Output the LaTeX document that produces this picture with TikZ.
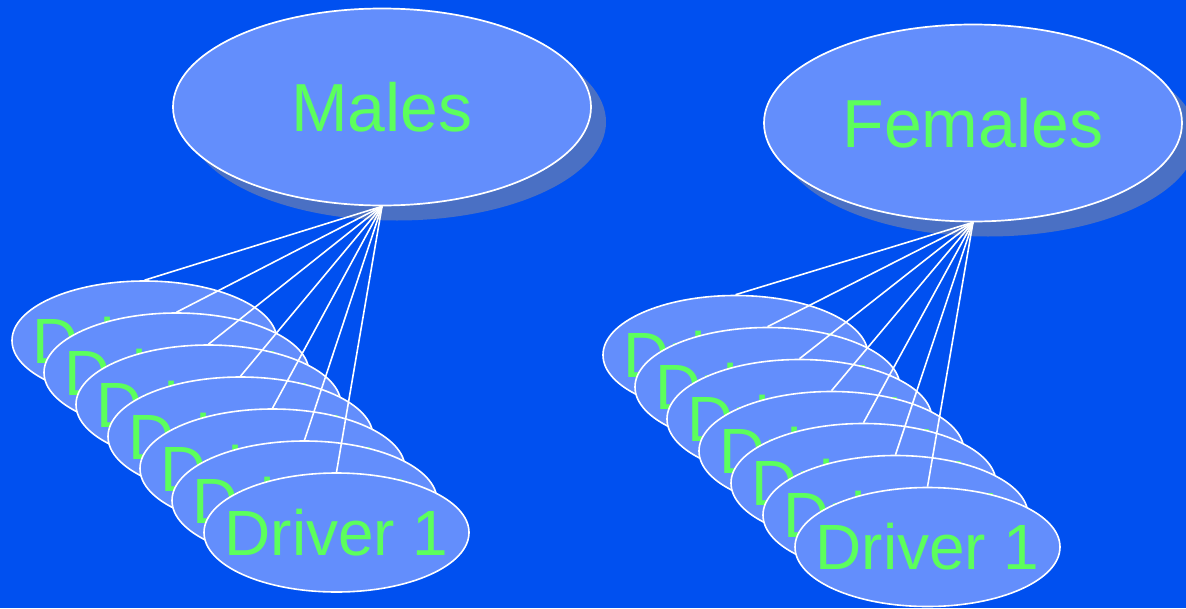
\documentclass[tikz,border=0pt]{standalone}
\usepackage{fontspec}
\setmainfont{Liberation Sans}
\usetikzlibrary{shapes.geometric}
\definecolor{bg}{RGB}{0,80,240}
\definecolor{ellfill}{RGB}{99,142,252}
\definecolor{shadowc}{RGB}{74,112,196}
\definecolor{txtgreen}{RGB}{92,255,92}
\tikzset{
  bigell/.style={ellipse, draw=white, line width=1.7pt, fill=ellfill, minimum width=418pt, minimum height=197pt, inner sep=0pt},
  bigshadow/.style={ellipse, fill=shadowc, minimum width=418pt, minimum height=197pt, inner sep=0pt},
  drvell/.style={ellipse, draw=white, line width=1.6pt, fill=ellfill, minimum width=265pt, minimum height=119pt, inner sep=0pt},
  bigtxt/.style={text=txtgreen, font=\fontsize{68}{80}\selectfont, inner sep=0pt},
  drvtxt/.style={text=txtgreen, font=\fontsize{64}{76}\selectfont, inner sep=0pt},
  link/.style={draw=white, line width=1.6pt}
}
\begin{document}
\begin{tikzpicture}[x=1pt,y=-1pt]
\fill[bg] (0,0) rectangle (1186,608);
\useasboundingbox (0,0) rectangle (1186,608);
% Males
\node[bigshadow] (mshadow) at (397,122) {};
\node[bigell] (males) at (382,107) {};
\node[bigtxt] (maleslbl) at (males.center) {Males};
% Females
\node[bigshadow] (fshadow) at (988,138) {};
\node[bigell] (females) at (973,123) {};
\node[bigtxt] (femaleslbl) at (females.center) {Females};
% Driver stacks
\foreach \k in {0,...,6}{
  \node[drvell] (ml\k) at ({144.5+32*\k},{340.5+32*\k}) {};
  \node[drvtxt] (mlt\k) at (ml\k.center) {Driver 1};
}
\foreach \k in {0,...,6}{
  \node[drvell] (fl\k) at ({735.5+32*\k},{355+32*\k}) {};
  \node[drvtxt] (flt\k) at (fl\k.center) {Driver 1};
}
% Links
\foreach \k in {0,...,6}{
  \draw[link] (males.south) -- (ml\k.north);
  \draw[link] (females.south) -- (fl\k.north);
}
\end{tikzpicture}
\end{document}
